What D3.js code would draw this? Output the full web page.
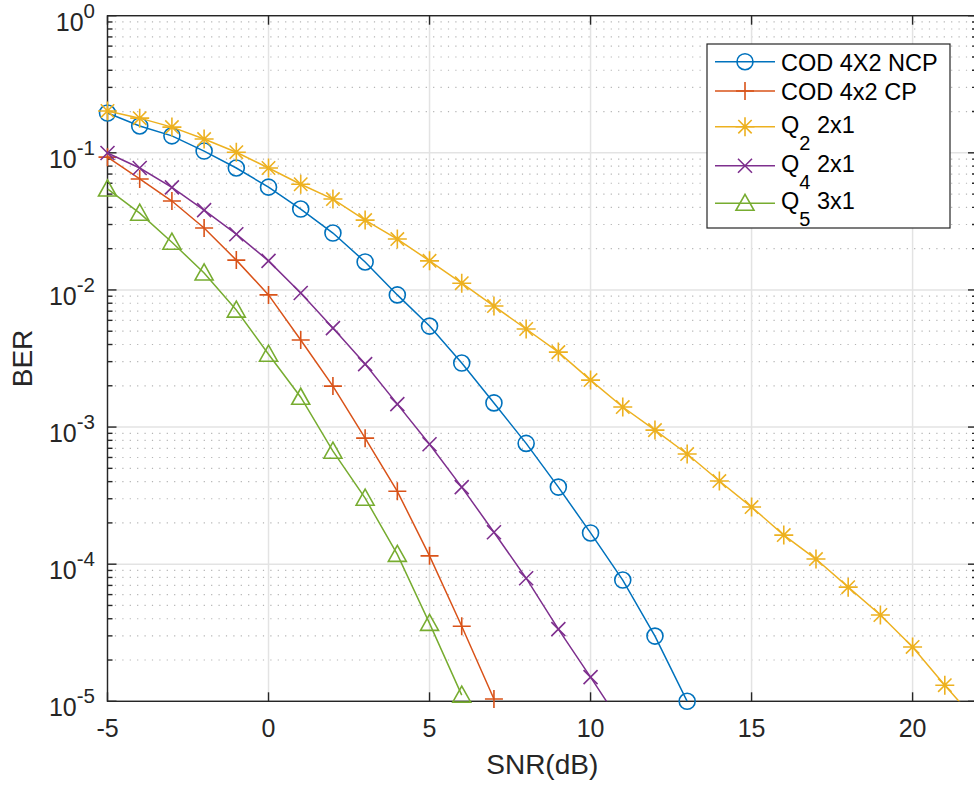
<!DOCTYPE html>
<html>
<head>
<meta charset="utf-8">
<script src="https://cdn.jsdelivr.net/npm/d3@7"></script>
<style>
  html, body { margin: 0; padding: 0; background: #fff; }
  svg { display: block; font-family: "Liberation Sans", Arial, Helvetica, sans-serif; }
</style>
</head>
<body>
<svg id="chart" width="974" height="785"></svg>
<script>
// SNR grid (dB) for each curve
const snrNCP = [-5,-4,-3,-2,-1,0,1,2,3,4,5,6,7,8,9,10,11,12,13];
const berNCP = [0.195,0.157,0.133,0.103,0.0775,0.0562,0.0389,0.026,0.016,0.0092,0.00545,0.00293,0.0015,0.00076,0.000365,0.000169,7.66e-5,2.99e-5,1.0e-5];

const snrCP = [-5,-4,-3,-2,-1,0,1,2,3,4,5,6,7];
const berCP = [0.093,0.0645,0.0445,0.0283,0.0165,0.0092,0.00431,0.00199,0.00083,0.00034,0.000115,3.53e-5,1.04e-5];

const snrQ2 = [-5,-4,-3,-2,-1,0,1,2,3,4,5,6,7,8,9,10,11,12,13,14,15,16,17,18,19,20,21,22];
const berQ2 = [0.202,0.179,0.154,0.126,0.101,0.0775,0.059,0.046,0.0323,0.0235,0.0163,0.0112,0.00763,0.00519,0.00352,0.0022,0.0014,0.00095,0.000636,0.000404,0.000261,0.000163,0.000109,6.8e-5,4.26e-5,2.49e-5,1.31e-5,7.1e-6];

const snrQ4 = [-5,-4,-3,-2,-1,0,1,2,3,4,5,6,7,8,9,10,11];
const berQ4 = [0.0997,0.0775,0.056,0.0382,0.0255,0.0163,0.0095,0.00527,0.00288,0.00147,0.00075,0.000365,0.000171,7.9e-5,3.36e-5,1.5e-5,6.6e-6];

const snrQ5 = [-5,-4,-3,-2,-1,0,1,2,3,4,5,6];
const berQ5 = [0.0545,0.0363,0.0223,0.0133,0.00713,0.0034,0.00165,0.000667,0.000303,0.000118,3.7e-5,1.11e-5];

const seriesNames = ["COD 4X2 NCP", "COD 4x2 CP", "Q2 2x1", "Q4 2x1", "Q5 3x1"];
const xTicks = [-5, 0, 5, 10, 15, 20];
const yTickExponents = [0, -1, -2, -3, -4, -5];

const series = [
  { name: seriesNames[0], x: snrNCP, y: berNCP, color: "#0072BD", marker: "circle" },
  { name: seriesNames[1], x: snrCP,  y: berCP,  color: "#D95319", marker: "plus" },
  { name: seriesNames[2], x: snrQ2,  y: berQ2,  color: "#EDB120", marker: "star", sub: "2", rest: " 2x1" },
  { name: seriesNames[3], x: snrQ4,  y: berQ4,  color: "#7E2F8E", marker: "cross", sub: "4", rest: " 2x1" },
  { name: seriesNames[4], x: snrQ5,  y: berQ5,  color: "#77AC30", marker: "triangle", sub: "5", rest: " 3x1" }
];

const svg = d3.select("#chart");
const pLeft = 107.5, pRight = 977, pTop = 15.7, pBottom = 701.3;

const x = d3.scaleLinear().domain([-5, 22]).range([pLeft, pRight]);
const y = d3.scaleLog().domain([1e-5, 1]).range([pBottom, pTop]);

// grid: dotted minor lines, solid major lines
const grid = svg.append("g");
const minorVals = [];
for (let e = -5; e < 0; e++) for (let m = 2; m <= 9; m++) minorVals.push(m * Math.pow(10, e));
grid.selectAll("line.minor").data(minorVals).enter().append("line")
  .attr("x1", pLeft).attr("x2", pRight)
  .attr("y1", d => y(d)).attr("y2", d => y(d))
  .attr("stroke", "#b4b4b4").attr("stroke-width", 1.2)
  .attr("stroke-dasharray", "1.2,6.2");
grid.selectAll("line.hmaj").data(yTickExponents.map(e => Math.pow(10, e))).enter().append("line")
  .attr("x1", pLeft).attr("x2", pRight)
  .attr("y1", d => y(d)).attr("y2", d => y(d))
  .attr("stroke", "#e3e3e3").attr("stroke-width", 1.5);
grid.selectAll("line.vmaj").data(xTicks).enter().append("line")
  .attr("x1", d => x(d)).attr("x2", d => x(d))
  .attr("y1", pTop).attr("y2", pBottom)
  .attr("stroke", "#e3e3e3").attr("stroke-width", 1.5);

// axes box and ticks
const axisColor = "#262626";
const ax = svg.append("g").attr("stroke", axisColor).attr("stroke-width", 1.4);
ax.append("rect").attr("x", pLeft).attr("y", pTop)
  .attr("width", pRight - pLeft).attr("height", pBottom - pTop).attr("fill", "none");
xTicks.forEach(t => {
  ax.append("line").attr("x1", x(t)).attr("x2", x(t)).attr("y1", pBottom).attr("y2", pBottom - 9);
  ax.append("line").attr("x1", x(t)).attr("x2", x(t)).attr("y1", pTop).attr("y2", pTop + 9);
});
yTickExponents.forEach(e => {
  const yy = y(Math.pow(10, e));
  ax.append("line").attr("x1", pLeft).attr("x2", pLeft + 9).attr("y1", yy).attr("y2", yy);
  ax.append("line").attr("x1", pRight).attr("x2", pRight - 9).attr("y1", yy).attr("y2", yy);
});
minorVals.forEach(v => {
  const yy = y(v);
  ax.append("line").attr("x1", pLeft).attr("x2", pLeft + 5).attr("y1", yy).attr("y2", yy);
  ax.append("line").attr("x1", pRight).attr("x2", pRight - 5).attr("y1", yy).attr("y2", yy);
});

// tick labels
const tl = svg.append("g").attr("fill", axisColor);
xTicks.forEach(t => {
  tl.append("text").attr("x", x(t)).attr("y", 737)
    .attr("text-anchor", "middle").attr("font-size", 25).text(t);
});
yTickExponents.forEach(e => {
  const yy = y(Math.pow(10, e));
  const txt = tl.append("text").attr("x", 95).attr("y", yy + 15)
    .attr("text-anchor", "end").attr("font-size", 25);
  txt.append("tspan").text("10");
  txt.append("tspan").attr("dy", -13).attr("font-size", 20.5).text(e);
});

// axis labels
svg.append("text").attr("x", (pLeft + pRight) / 2).attr("y", 774)
  .attr("text-anchor", "middle").attr("font-size", 28).attr("fill", axisColor).text("SNR(dB)");
svg.append("text").attr("transform", `translate(32,${(pTop + pBottom) / 2}) rotate(-90)`)
  .attr("text-anchor", "middle").attr("font-size", 28).attr("fill", axisColor).text("BER");

// markers
function drawMarker(g, type, cx, cy, color) {
  const sw = 1.6;
  if (type === "circle") {
    g.append("circle").attr("cx", cx).attr("cy", cy).attr("r", 8)
      .attr("fill", "none").attr("stroke", color).attr("stroke-width", sw);
  } else if (type === "plus") {
    const s = 9;
    g.append("path").attr("d", `M${cx - s},${cy}H${cx + s}M${cx},${cy - s}V${cy + s}`)
      .attr("stroke", color).attr("stroke-width", sw).attr("fill", "none");
  } else if (type === "cross") {
    const s = 7;
    g.append("path").attr("d", `M${cx - s},${cy - s}L${cx + s},${cy + s}M${cx - s},${cy + s}L${cx + s},${cy - s}`)
      .attr("stroke", color).attr("stroke-width", sw).attr("fill", "none");
  } else if (type === "star") {
    const s = 9.5, d = 6.7;
    g.append("path").attr("d",
      `M${cx - s},${cy}H${cx + s}M${cx},${cy - s}V${cy + s}` +
      `M${cx - d},${cy - d}L${cx + d},${cy + d}M${cx - d},${cy + d}L${cx + d},${cy - d}`)
      .attr("stroke", color).attr("stroke-width", sw).attr("fill", "none");
  } else if (type === "triangle") {
    const h = 9;
    g.append("path").attr("d", `M${cx},${cy - h}L${cx + h},${cy + h * 0.78}L${cx - h},${cy + h * 0.78}Z`)
      .attr("stroke", color).attr("stroke-width", sw).attr("fill", "none").attr("stroke-linejoin", "miter");
  }
}

svg.append("defs").append("clipPath").attr("id", "plotClip")
  .append("rect").attr("x", pLeft).attr("y", pTop).attr("width", pRight - pLeft).attr("height", pBottom - pTop);

const line = d3.line().x(d => x(d[0])).y(d => y(d[1]));
const dataG = svg.append("g");
series.forEach(s => {
  const pts = s.x.map((v, i) => [v, s.y[i]]);
  dataG.append("path").attr("d", line(pts)).attr("fill", "none")
    .attr("stroke", s.color).attr("stroke-width", 1.5).attr("clip-path", "url(#plotClip)");
  const mg = dataG.append("g");
  pts.filter(p => p[1] >= 0.999e-5).forEach(p => drawMarker(mg, s.marker, x(p[0]), y(p[1]), s.color));
});

// legend
const lg = svg.append("g");
lg.append("rect").attr("x", 707).attr("y", 44).attr("width", 243).attr("height", 184)
  .attr("fill", "#fff").attr("stroke", axisColor).attr("stroke-width", 1.2);
const rowY = [61.7, 91, 126.7, 165.7, 203.3];
series.forEach((s, i) => {
  const ry = rowY[i];
  lg.append("line").attr("x1", 715).attr("x2", 775).attr("y1", ry).attr("y2", ry)
    .attr("stroke", s.color).attr("stroke-width", 1.5);
  drawMarker(lg, s.marker, 745, ry, s.color);
  const t = lg.append("text").attr("x", 781).attr("font-size", 23.5).attr("fill", "#000");
  if (s.sub) {
    t.attr("y", ry + 6);
    t.append("tspan").text("Q");
    t.append("tspan").attr("dy", 17).attr("font-size", 20).text(s.sub);
    t.append("tspan").attr("dy", -17).attr("font-size", 23.5).text(s.rest);
  } else {
    t.attr("y", ry + 9).text(s.name);
  }
});
</script>
</body>
</html>
